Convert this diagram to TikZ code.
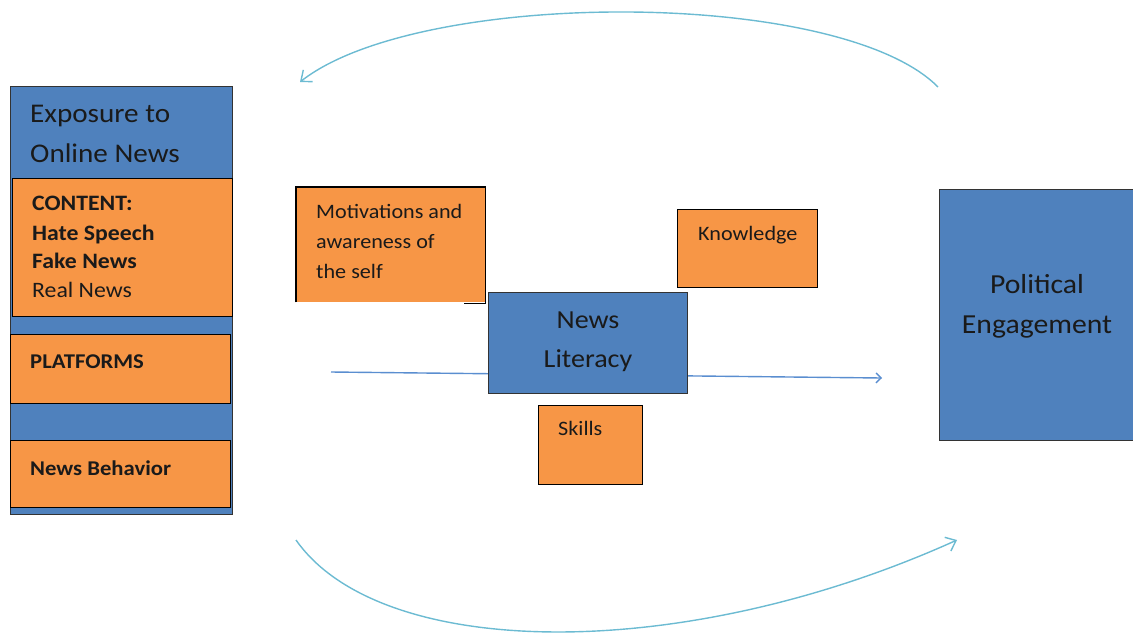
\documentclass[tikz,border=0pt]{standalone}
\usepackage{fontspec}
\setmainfont{Carlito}[FakeStretch=1.08]
\usetikzlibrary{arrows.meta,calc}
\definecolor{boxblue}{HTML}{4F81BD}
\definecolor{boxorange}{HTML}{F79646}
\definecolor{arcblue}{HTML}{6CBBD2}
\definecolor{flowblue}{HTML}{5A8ED0}
\definecolor{txt}{HTML}{1A1A1A}
\tikzset{
  bluebox/.style={draw=black!80, line width=1.2pt, fill=boxblue, inner sep=0pt, anchor=north west},
  orangebox/.style={draw=black, line width=1.4pt, fill=boxorange, inner sep=0pt, anchor=north west},
  label/.style={inner sep=0pt, anchor=base west, text=txt, align=left},
  arc/.style={draw=arcblue, line width=1.4pt, -{Straight Barb[length=9pt,width=15pt,line width=1.4pt]}},
  flow/.style={draw=flowblue, line width=1.4pt, -{Straight Barb[length=5pt,width=10pt,line width=1.4pt]}},
}
\begin{document}
\begin{tikzpicture}[x=1pt,y=-1pt]
\useasboundingbox (0,0) rectangle (1133,633);

% curved feedback arrows
\coordinate (t1) at (938,87);
\coordinate (t2) at (300,82);
\coordinate (b1) at (296,540);
\coordinate (b2) at (957,540);
\draw[arc] (t1) .. controls (840,-12) and (420,-12) .. (t2);
\draw[arc] (b1) .. controls (380,660) and (680,665) .. (b2);

% main flow arrow
\coordinate (f1) at (331,372);
\coordinate (f2) at (882,378);
\draw[flow] (f1) -- (f2);

% left column
\node[bluebox, minimum width=222pt, minimum height=428pt] (expo) at (10,86) {};
\node[orangebox, minimum width=220pt, minimum height=138pt] (content) at (12,178) {};
\node[orangebox, minimum width=220pt, minimum height=69pt] (platforms) at (10,334) {};
\node[orangebox, minimum width=220pt, minimum height=67pt] (behavior) at (10,440) {};

\node[label, font=\fontsize{27}{40}\selectfont] (expot) at (30,122) {Exposure to};
\node[label, font=\fontsize{27}{40}\selectfont] (expot2) at (30,162) {Online News};
\node[label, font=\fontsize{22}{28}\selectfont\bfseries] (ct1) at (32,210) {CONTENT:};
\node[label, font=\fontsize{22}{28}\selectfont\bfseries] (ct2) at (32,240) {Hate Speech};
\node[label, font=\fontsize{22}{28}\selectfont\bfseries] (ct3) at (32,268) {Fake News};
\node[label, font=\fontsize{22}{28}\selectfont] (ct4) at (32,297) {Real News};
\node[label, font=\fontsize{21}{28}\selectfont\bfseries] (plt) at (30,368) {PLATFORMS};
\node[label, font=\fontsize{21}{28}\selectfont\bfseries] (beht) at (30,475) {News Behavior};

% motivations box (partial bottom border)
\node[fill=boxorange, inner sep=0pt, anchor=north west, minimum width=189pt, minimum height=115pt] (mot) at (296,187) {};
\draw[black, line width=1.4pt] (mot.south west) -- (mot.north west) -- (mot.north east) -- ($(mot.south east)+(0,1)$) -- ($(mot.south east)+(-21,1)$);
\node[label, font=\fontsize{20.5}{30}\selectfont] (mt1) at (316,218) {Motivations and};
\node[label, font=\fontsize{20.5}{30}\selectfont] (mt2) at (316,248) {awareness of};
\node[label, font=\fontsize{20.5}{30}\selectfont] (mt3) at (316,278) {the self};

% knowledge
\node[orangebox, minimum width=140pt, minimum height=78pt] (know) at (677,209) {};
\node[label, font=\fontsize{20.5}{24}\selectfont] (knowt) at (698,240) {Knowledge};

% news literacy
\node[bluebox, minimum width=199pt, minimum height=101pt] (nl) at (488,292) {};
\node[inner sep=0pt, anchor=base, text=txt, font=\fontsize{26}{39}\selectfont] (nlt1) at (588,328) {News};
\node[inner sep=0pt, anchor=base, text=txt, font=\fontsize{26}{39}\selectfont] (nlt2) at (588,367) {Literacy};

% skills
\node[orangebox, minimum width=104pt, minimum height=79pt] (skills) at (538,405) {};
\node[label, font=\fontsize{20.5}{24}\selectfont] (skillst) at (558,435) {Skills};

% political engagement
\node[bluebox, minimum width=194pt, minimum height=251pt] (pe) at (939,189) {};
\node[inner sep=0pt, anchor=base, text=txt, font=\fontsize{27.5}{40}\selectfont] (pet1) at (1037,293) {Political};
\node[inner sep=0pt, anchor=base, text=txt, font=\fontsize{27.5}{40}\selectfont] (pet2) at (1037,333) {Engagement};
\end{tikzpicture}
\end{document}
